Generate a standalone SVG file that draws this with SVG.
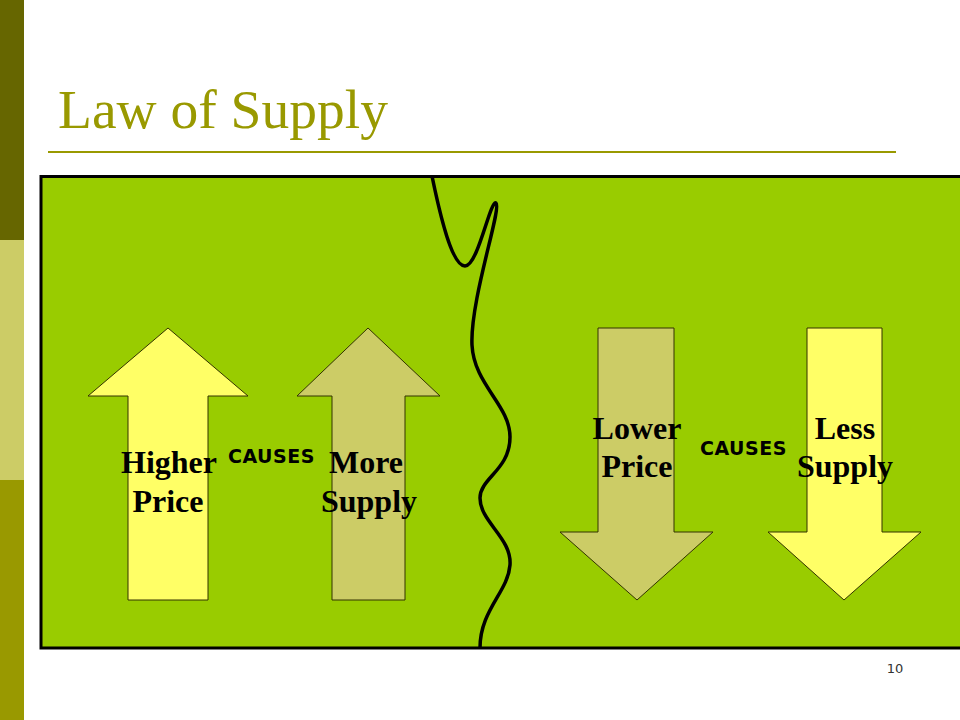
<svg xmlns="http://www.w3.org/2000/svg" width="960" height="720" viewBox="0 0 960 720">
<style>
.lbl{font-family:"Liberation Serif","Times New Roman",serif;font-weight:bold;font-size:32px;fill:#000;text-anchor:middle}
.cause{font-family:"DejaVu Sans",Verdana,sans-serif;font-weight:bold;font-size:19px;letter-spacing:0.5px;fill:#000}
.arr{stroke:#333300;stroke-width:1}
</style>
<rect x="0" y="0" width="960" height="720" fill="#ffffff"/>
<g id="sidebar">
<rect x="0" y="0" width="24" height="240" fill="#666600"/>
<rect x="0" y="240" width="24" height="240" fill="#CCCC66"/>
<rect x="0" y="480" width="24" height="240" fill="#999900"/>
</g>
<g id="title">
<text x="58" y="128" font-family="Liberation Serif,'Times New Roman',serif" font-size="55.5" fill="#999900">Law of Supply</text>
<line x1="48" y1="152" x2="896" y2="152" stroke="#999900" stroke-width="2"/>
</g>
<g id="panel">
<rect x="41" y="176.5" width="921" height="471.5" fill="#99CC00" stroke="#000" stroke-width="3"/>
</g>
<g id="divider">
<path d="M432,176 C440,215 452,266 465,266 C478,266 490,200 496,203 C502,208 470,300 472,345 C474,385 510,405 510,437 C510,470 480,478 480,498 C480,522 512,538 510,565 C508,592 480,610 480,648" fill="none" stroke="#000" stroke-width="3.5"/>
</g>
<g id="higher-price">
<polygon class="arr" points="168,328 248,396 208,396 208,600 128,600 128,396 88,396" fill="#FFFF66"/>
<text class="lbl" x="169" y="473">Higher</text>
<text class="lbl" x="168" y="512">Price</text>
</g>
<g id="causes-1">
<text class="cause" x="228" y="463">CAUSES</text>
</g>
<g id="more-supply">
<polygon class="arr" points="368,328 440,396 405,396 405,600 332,600 332,396 297,396" fill="#CCCC66"/>
<text class="lbl" x="366" y="473">More</text>
<text class="lbl" x="369" y="512">Supply</text>
</g>
<g id="lower-price">
<polygon class="arr" points="598,328 674,328 674,532 713,532 637,600 560,532 598,532" fill="#CCCC66"/>
<text class="lbl" x="637" y="439">Lower</text>
<text class="lbl" x="637" y="477">Price</text>
</g>
<g id="causes-2">
<text class="cause" x="700" y="455">CAUSES</text>
</g>
<g id="less-supply">
<polygon class="arr" points="807,328 882,328 882,532 921,532 844,600 768,532 807,532" fill="#FFFF66"/>
<text class="lbl" x="845" y="439">Less</text>
<text class="lbl" x="845" y="477">Supply</text>
</g>
<g id="page-number">
<text x="895" y="673" font-family="DejaVu Sans,Verdana,sans-serif" font-size="13" fill="#333333" text-anchor="middle">10</text>
</g>
</svg>
